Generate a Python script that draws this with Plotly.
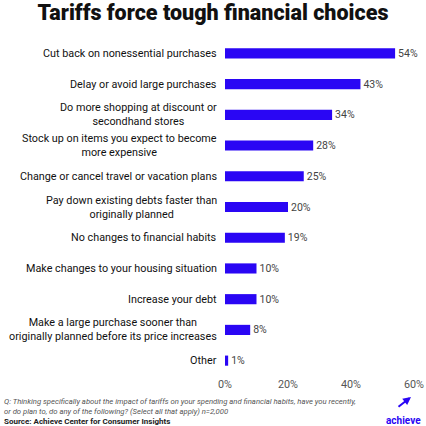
import plotly.graph_objects as go

# Chart data
categories = [
    "Cut back on nonessential purchases",
    "Delay or avoid large purchases",
    "Do more shopping at discount or<br>secondhand stores",
    "Stock up on items you expect to become<br>more expensive",
    "Change or cancel travel or vacation plans",
    "Pay down existing debts faster than<br>originally planned",
    "No changes to financial habits",
    "Make changes to your housing situation",
    "Increase your debt",
    "Make a large purchase sooner than<br>originally planned before its price increases",
    "Other",
]
values = [54, 43, 34, 28, 25, 20, 19, 10, 10, 8, 1]
tick_vals = [0, 20, 40, 60]
tick_text = ["0%", "20%", "40%", "60%"]

FONT = "Roboto"
BLUE = "#2A06F4"

fig = go.Figure()

fig.add_trace(go.Bar(
    x=values,
    y=categories,
    orientation="h",
    marker=dict(color=BLUE, line=dict(width=0)),
    width=0.33,
    text=[f"{v}%" for v in values],
    textposition="outside",
    constraintext="none",
    textfont=dict(family=FONT, size=10.5, color="#444444"),
    cliponaxis=False,
))

# category labels as annotations so two-line labels are centered
for c in categories:
    fig.add_annotation(
        x=0, xref="paper", xanchor="right", xshift=-6,
        y=c, yref="y", yanchor="middle",
        text=c, align="center", showarrow=False,
        font=dict(family=FONT, size=10.8, color="#111111"),
    )

fig.update_layout(
    width=426, height=426,
    margin=dict(l=225, r=12, t=38, b=50),
    plot_bgcolor="white", paper_bgcolor="white",
    showlegend=False,
    title=dict(text="Tariffs force tough financial choices",
               x=0.5, xref="container", xanchor="center",
               y=0.97, yref="container", yanchor="middle",
               font=dict(family=FONT, size=21.5, color="#111111", weight=900)),
    xaxis=dict(range=[0, 60], tickvals=tick_vals, ticktext=tick_text,
               showgrid=False, zeroline=False, showline=False, automargin=False,
               tickfont=dict(family=FONT, size=10.8, color="#555555")),
    yaxis=dict(autorange="reversed", showticklabels=False, showgrid=False,
               zeroline=False, showline=False, automargin=False),
)

# footer (paper y: 0 = plot bottom at 376px, 338px tall)
def py(px):
    return (376 - px) / 338

foot = [
    ("<i>Q: Thinking specifically about the impact of tariffs on your spending and financial habits, have you recently,</i>", 401.5, 7.7, "#555555"),
    ("<i>or do plan to, do any of the following? (Select all that apply) n=2,000</i>", 411, 7.7, "#555555"),
    ("<b>Source: Achieve Center for Consumer Insights</b>", 421.5, 8, "#222222"),
]
for txt, ypx, sz, col in foot:
    fig.add_annotation(
        x=0, xref="paper", xanchor="left", xshift=-223, y=py(ypx), yref="paper",
        yanchor="middle", align="left", showarrow=False, text=txt,
        font=dict(family=FONT, size=sz, color=col),
    )

# achieve logo
fig.add_annotation(
    x=(403 - 225) / 189, xref="paper", xanchor="center", y=py(421), yref="paper",
    yanchor="middle", showarrow=False, text="<b>achieve</b>",
    font=dict(family=FONT, size=10, color=BLUE),
)
fig.add_annotation(
    x=(411 - 225) / 189, xref="paper", y=py(397), yref="paper",
    ax=-14, ay=11, text="", showarrow=True,
    arrowhead=2, arrowsize=0.8, arrowwidth=2, arrowcolor=BLUE,
)

fig.write_html("out.html", config={"displayModeBar": False},
               post_script="document.body.style.margin='0';")
